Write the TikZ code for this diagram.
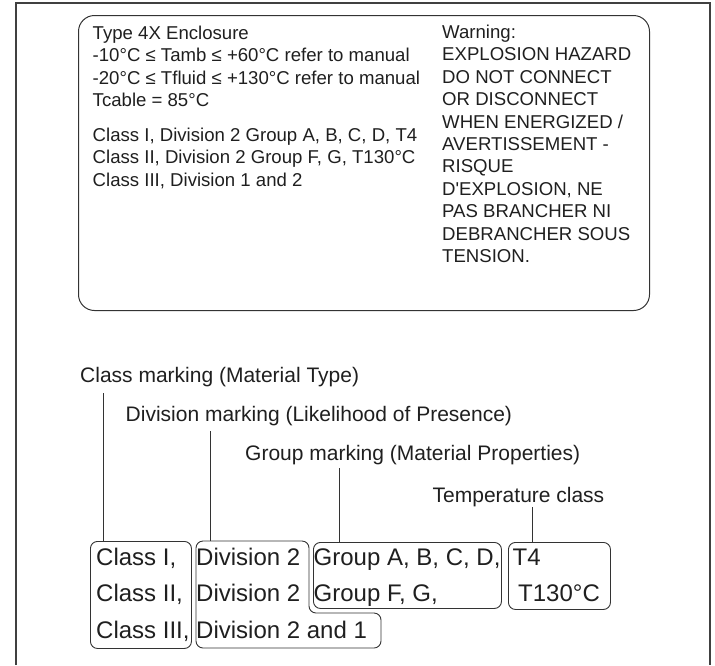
\documentclass[tikz,border=0pt]{standalone}
\usepackage{fontspec}
\setmainfont{Liberation Sans}
\begin{document}
\begin{tikzpicture}[x=1pt,y=-1pt,
  frame/.style={draw=black!75, line width=1.1pt},
  bigbox/.style={draw=black!80, line width=1pt, rounded corners=16pt},
  rowbox/.style={draw=black!80, line width=0.9pt, rounded corners=7pt},
  conn/.style={draw=black!80, line width=0.9pt},
  toptxt/.style={anchor=base west, inner sep=0pt, text=black!88, font=\fontsize{18.6}{22}\selectfont},
  lbltxt/.style={anchor=base west, inner sep=0pt, text=black!88, font=\fontsize{21}{25}\selectfont},
  rowtxt/.style={anchor=base west, inner sep=0pt, text=black!88, font=\fontsize{24}{28}\selectfont}]
\useasboundingbox (0,0) rectangle (715,665);
% outer frame
\coordinate (fbl) at (16,665);
\coordinate (ftl) at (16,3);
\coordinate (ftr) at (710,3);
\coordinate (fbr) at (710,665);
\draw[frame] (fbl) -- (ftl) -- (ftr) -- (fbr);
% label box
\node[bigbox, minimum width=571pt, minimum height=295pt, anchor=north west, inner sep=0pt] (lbox) at (78,15) {};
% left text
\node[toptxt] (t1) at (92.5,39.5) {Type 4X Enclosure};
\node[toptxt] (t2) at (92.5,61.8) {-10°C ≤ Tamb ≤ +60°C refer to manual};
\node[toptxt] (t3) at (92.5,84.1) {-20°C ≤ Tfluid ≤ +130°C refer to manual};
\node[toptxt] (t4) at (92.5,106.4) {Tcable = 85°C};
\node[toptxt] (t5) at (92.5,141.5) {Class I, Division 2 Group A, B, C, D, T4};
\node[toptxt] (t6) at (92.5,163.8) {Class II, Division 2 Group F, G, T130°C};
\node[toptxt] (t7) at (92.5,186.1) {Class III, Division 1 and 2};
% warning text
\foreach \i/\t in {0/{Warning:},1/{EXPLOSION HAZARD},2/{DO NOT CONNECT},3/{OR DISCONNECT},4/{WHEN ENERGIZED /},5/{AVERTISSEMENT -},6/{RISQUE},7/{D\textquotesingle EXPLOSION, NE},8/{PAS BRANCHER NI},9/{DEBRANCHER SOUS},10/{TENSION.}}
  \node[toptxt] (w\i) at (442,38.5+22.4*\i) {\t};
% labels
\node[lbltxt] (lcls) at (80,382.5) {Class marking (Material Type)};
\node[lbltxt] (ldiv) at (125.5,421.5) {Division marking (Likelihood of Presence)};
\node[lbltxt] (lgrp) at (245,460.5) {Group marking (Material Properties)};
\node[lbltxt] (ltmp) at (432.5,502.5) {Temperature class};
% boxes
\node[rowbox, minimum width=101pt, minimum height=107pt, anchor=north west, inner sep=0pt] (bcls) at (90,541) {};
\node[rowbox, minimum width=188pt, minimum height=66pt, anchor=north west, inner sep=0pt] (bgrp) at (313,542) {};
\node[rowbox, minimum width=102pt, minimum height=67pt, anchor=north west, inner sep=0pt] (btmp) at (508,542) {};
\coordinate (d1) at (196,541);
\coordinate (d2) at (309,541);
\coordinate (d3) at (309,613);
\coordinate (d4) at (381,613);
\coordinate (d5) at (381,648);
\coordinate (d6) at (196,648);
\draw[rowbox] (d1) -- (d2) -- (d3) -- (d4) -- (d5) -- (d6) -- cycle;
% row texts
\node[rowtxt] (r1a) at (96,565.5) {Class I,};
\node[rowtxt] (r2a) at (96,601.5) {Class II,};
\node[rowtxt] (r3a) at (96,638.5) {Class III,};
\node[rowtxt] (r1b) at (196,565.5) {Division 2};
\node[rowtxt] (r2b) at (196,601.5) {Division 2};
\node[rowtxt] (r3b) at (196,638.5) {Division 2 and 1};
\node[rowtxt] (r1c) at (313.5,565.5) {Group A, B, C, D,};
\node[rowtxt] (r2c) at (313.5,601.5) {Group F, G,};
\node[rowtxt] (r1d) at (512.5,565.5) {T4};
\node[rowtxt] (r2d) at (518,601.5) {T130°C};
% connectors
\coordinate (c1) at (103,393);
\coordinate (c2) at (210,431);
\coordinate (c3) at (339,468);
\coordinate (c4) at (532,507);
\draw[conn] (c1) -- (c1 |- bcls.north);
\draw[conn] (c2) -- (c2 |- d1);
\draw[conn] (c3) -- (c3 |- bgrp.north);
\draw[conn] (c4) -- (c4 |- btmp.north);
\end{tikzpicture}
\end{document}
